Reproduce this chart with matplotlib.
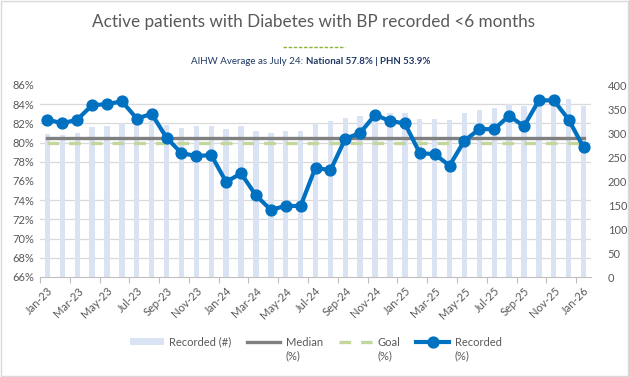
import numpy as np
import matplotlib.pyplot as plt
from matplotlib.lines import Line2D
from matplotlib.patches import Patch

plt.rcParams["font.family"] = ["Lato", "DejaVu Sans"]

# ---- data ----
months = ["Jan-23", "Feb-23", "Mar-23", "Apr-23", "May-23", "Jun-23", "Jul-23", "Aug-23",
          "Sep-23", "Oct-23", "Nov-23", "Dec-23", "Jan-24", "Feb-24", "Mar-24", "Apr-24",
          "May-24", "Jun-24", "Jul-24", "Aug-24", "Sep-24", "Oct-24", "Nov-24", "Dec-24",
          "Jan-25", "Feb-25", "Mar-25", "Apr-25", "May-25", "Jun-25", "Jul-25", "Aug-25",
          "Sep-25", "Oct-25", "Nov-25", "Dec-25", "Jan-26"]
recorded_n = [298, 296, 301, 313, 315, 320, 317, 324, 317, 311, 315, 315, 308, 315, 305, 301,
              305, 305, 320, 325, 332, 336, 344, 342, 342, 329, 329, 327, 342, 348, 353, 360,
              357, 364, 364, 371, 357]
recorded_pct = [82.4, 82.0, 82.4, 83.9, 84.0, 84.3, 82.5, 83.0, 80.5, 78.9, 78.6, 78.7, 75.9,
                76.8, 74.5, 73.0, 73.4, 73.4, 77.4, 77.1, 80.4, 81.0, 82.9, 82.25, 82.0, 78.9,
                78.8, 77.6, 80.2, 81.4, 81.4, 82.8, 81.7, 84.4, 84.4, 82.4, 79.5]
median_pct = [80.5] * len(months)
goal_pct = [80.0] * len(months)

TXT = "#595959"
BLUE = "#0070C0"
BAR = "#DAE3F3"
GRID = "#D9D9D9"

fig = plt.figure(figsize=(6.29, 3.77), dpi=100)
fig.patches.append(plt.Rectangle((0.001, 0.002), 0.997, 0.995, transform=fig.transFigure,
                                 fill=False, edgecolor="#D9D9D9", linewidth=1))

# bars on the base axes (counts, right side)
ax = fig.add_axes([40 / 629, 1 - 277 / 377, 551 / 629, 192 / 377])
x = np.arange(len(months))
ax.bar(x, recorded_n, width=0.36, color=BAR, zorder=2)
ax.set_xlim(-0.5, len(months) - 0.5)
ax.set_ylim(0, 400)
ax.set_yticks(np.arange(0, 401, 50))
ax.set_yticks(np.arange(0, 401, 40), minor=True)
ax.grid(axis="y", which="minor", color=GRID, linewidth=0.9)
ax.set_axisbelow(True)

# x axis: ticks on category boundaries, labels at centres
ax.set_xticks(np.arange(-0.5, len(months) - 0.5, 2))
ax.set_xticklabels([])
ax.set_xticks(x[::2], minor=True)
ax.set_xticklabels(months[::2], minor=True, rotation=45, ha="right", rotation_mode="anchor")
ax.tick_params(axis="x", which="major", length=4, color="#BFBFBF", width=0.8)
ax.tick_params(axis="x", which="minor", length=0, labelsize=8, labelcolor=TXT, pad=6)
for s in ["top", "left", "right"]:
    ax.spines[s].set_visible(False)
ax.spines["bottom"].set_color("#BFBFBF")
ax.spines["bottom"].set_linewidth(0.8)

# lines on the twin axes (percent, left side)
ax2 = ax.twinx()
ax2.plot(x, median_pct, color="#808080", linewidth=2.4, zorder=3)
ax2.plot(x, goal_pct, color="#C3D69B", linewidth=2.4, dashes=(3.5, 3), zorder=3)
ax2.plot(x, recorded_pct, color=BLUE, linewidth=3, marker="o", markersize=7.8, zorder=4)
ax2.set_ylim(66, 86)
ax2.set_yticks(np.arange(66, 87, 2))
ax2.set_yticklabels([f"{v}%" for v in range(66, 87, 2)])
ax2.yaxis.tick_left()
ax2.tick_params(axis="y", length=0, labelsize=8, labelcolor=TXT, pad=4)
for s in ax2.spines.values():
    s.set_visible(False)

# twinx moves the base ticks to the left, so put them back on the right
ax.yaxis.tick_right()
ax.tick_params(axis="y", which="both", length=0, labelsize=8, labelcolor=TXT, pad=12)

# titles
fig.text(314 / 629, 1 - 22 / 377, "Active patients with Diabetes with BP recorded <6 months",
         ha="center", va="center", fontsize=12.3, color=TXT)
fig.add_artist(Line2D([283 / 629, 345 / 629], [1 - 47 / 377] * 2, color="#8DB33A",
                      linewidth=1, dashes=(2.5, 1.2)))
fig.text(306 / 629, 1 - 61 / 377, "AIHW Average as July 24: ", ha="right", va="center",
         fontsize=7, color="#1F3864")
fig.text(306 / 629, 1 - 61 / 377, "National 57.8% | PHN 53.9%", ha="left", va="center",
         fontsize=7, color="#1F3864", fontweight="bold")

# legend: handles line up with the first line of each label, "(%)" goes underneath
handles = [Patch(facecolor=BAR, edgecolor="none"),
           Line2D([], [], color="#808080", linewidth=2.4),
           Line2D([], [], color="#C3D69B", linewidth=2.4, dashes=(3.5, 3)),
           Line2D([], [], color=BLUE, linewidth=3, marker="o", markersize=7.8)]
labels = ["Recorded (#)", "Median", "Goal", "Recorded"]
leg = fig.legend(handles, labels, loc="center", bbox_to_anchor=(316 / 629, 1 - 342 / 377),
                 ncol=4, frameon=False, fontsize=8, labelcolor=TXT, handlelength=3.0,
                 handletextpad=0.5, columnspacing=1.4, handleheight=0.6)
fig.canvas.draw()
inv = fig.transFigure.inverted()
for t in leg.get_texts()[1:]:
    bb = t.get_window_extent()
    x0, _ = inv.transform((bb.x0, bb.y0))
    fig.text(x0, 1 - 356 / 377, "(%)", ha="left", va="center", fontsize=8, color=TXT)

fig.savefig("out.png", dpi=100)
